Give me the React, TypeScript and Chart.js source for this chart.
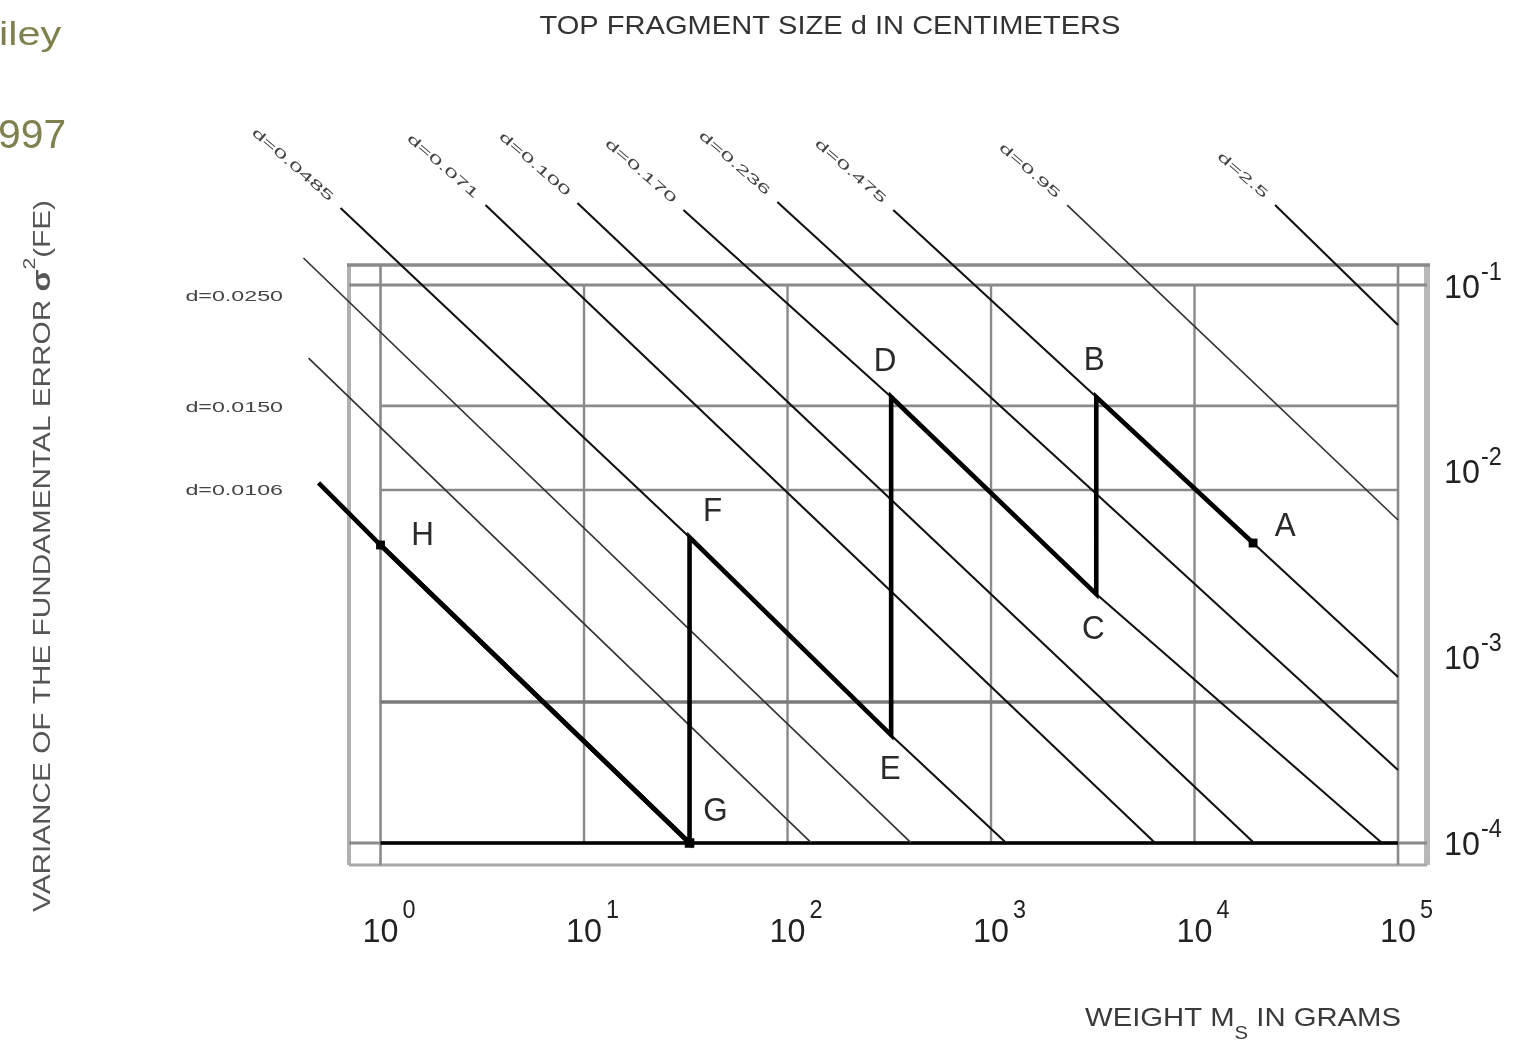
import React, { useEffect, useRef } from "react";
import { Chart, registerables } from "chart.js";

Chart.register(...registerables);

// ---------- axis ranges (outer frame of the nomogram) ----------
const X_MIN = 0.704;
const X_MAX = 138800;
const Y_MIN = 7.614e-5;
const Y_MAX = 0.1281;

// ---------- ticks & grid ----------
const xDecades = [1, 10, 100, 1000, 10000, 100000];
const xExponents = ["0", "1", "2", "3", "4", "5"];
const yDecades = [0.1, 0.01, 0.001, 0.0001];
const yExponents = ["-1", "-2", "-3", "-4"];
const yExtraGrid = [0.0224, 0.0079, 0.000573];

// ---------- top fragment size lines: weight Ms (g) -> variance ----------
const line0106 = [{ x: 0.496, y: 0.00862 }, { x: 1, y: 0.004 }, { x: 33, y: 0.0001 }];
const line0150 = [{ x: 0.443, y: 0.0405 }, { x: 131, y: 0.0001 }];
const line0250 = [{ x: 0.418, y: 0.1397 }, { x: 405, y: 0.0001 }];
const line0485 = [{ x: 0.636, y: 0.2594 }, { x: 33, y: 0.0044 }, { x: 323, y: 0.00038 }, { x: 1188, y: 0.0001 }];
const line071 = [{ x: 3.28, y: 0.2692 }, { x: 6406, y: 0.0001 }];
const line100 = [{ x: 9.28, y: 0.276 }, { x: 19620, y: 0.0001 }];
const line170 = [{ x: 30.8, y: 0.253 }, { x: 323, y: 0.025 }, { x: 3290, y: 0.00218 }, { x: 83440, y: 0.0001 }];
const line236 = [{ x: 89.1, y: 0.2794 }, { x: 100000, y: 0.000247 }];
const line475 = [{ x: 330.8, y: 0.253 }, { x: 3290, y: 0.025 }, { x: 19400, y: 0.0041 }, { x: 100000, y: 0.000781 }];
const line95 = [{ x: 2367, y: 0.2692 }, { x: 100000, y: 0.005452 }];
const line25 = [{ x: 24880, y: 0.2692 }, { x: 100000, y: 0.06095 }];

const diagonalLines = [line0485, line071, line100, line170, line236, line475, line95, line25];
const diagonalLabels = ["d=0.0485", "d=0.071", "d=0.100", "d=0.170", "d=0.236", "d=0.475", "d=0.95", "d=2.5"];
const leftLabels = ["d=0.0250", "d=0.0150", "d=0.0106"];
const leftLabelY = [0.0862, 0.0218, 0.0078];

// ---------- sampling protocol path A -> H ----------
const pathLetters = ["A", "B", "C", "D", "E", "F", "G", "H"];
const pathPoints = [
  { x: 19400, y: 0.0041 },
  { x: 3290, y: 0.025 },
  { x: 3290, y: 0.00218 },
  { x: 323, y: 0.025 },
  { x: 323, y: 0.00038 },
  { x: 33, y: 0.0044 },
  { x: 33, y: 0.0001 },
  { x: 1, y: 0.004 },
];

// ---------- texts ----------
const cornerTexts = ["iley", "997"];
const titleText = "TOP FRAGMENT SIZE d IN CENTIMETERS";
const yTitleParts = ["VARIANCE OF THE FUNDAMENTAL ERROR ", "σ", "2", "(FE)"];
const xTitleParts = ["WEIGHT M", "S", " IN GRAMS"];

// ---------- styles (not data) ----------
const SANS = '"Liberation Sans", Arial, Helvetica, sans-serif';
const letterOffsets = [[32, -16], [-2, -36], [-3, 36], [-6, -35], [-1, 35], [23, -25], [26, -31], [42, -9]];
const GRID = "#8a8a8a";

function seg(ctx: CanvasRenderingContext2D, x1: number, y1: number, x2: number, y2: number, color: string, w: number) {
  ctx.save();
  ctx.strokeStyle = color;
  ctx.lineWidth = w;
  ctx.lineCap = "butt";
  ctx.beginPath();
  ctx.moveTo(x1, y1);
  ctx.lineTo(x2, y2);
  ctx.stroke();
  ctx.restore();
}

function put(
  ctx: CanvasRenderingContext2D,
  text: string,
  x: number,
  y: number,
  size: number,
  o: { align?: CanvasTextAlign; baseline?: CanvasTextBaseline; color?: string; sx?: number; width?: number; angle?: number; weight?: string } = {}
) {
  ctx.save();
  ctx.font = `${o.weight || "normal"} ${size}px ${SANS}`;
  ctx.fillStyle = o.color || "#333";
  ctx.textAlign = o.align || "left";
  ctx.textBaseline = o.baseline || "alphabetic";
  ctx.translate(x, y);
  if (o.angle) ctx.rotate(o.angle);
  let s = o.sx || 1;
  if (o.width) s = o.width / ctx.measureText(text).width;
  ctx.scale(s, 1);
  ctx.fillText(text, 0, 0);
  ctx.restore();
}

type Part = { t: string; size: number; dy: number; weight?: string };
function putParts(ctx: CanvasRenderingContext2D, parts: Part[], x: number, y: number, total: number, color: string, angle = 0) {
  ctx.save();
  ctx.translate(x, y);
  if (angle) ctx.rotate(angle);
  let natural = 0;
  const widths = parts.map((p) => {
    ctx.font = `${p.weight || "normal"} ${p.size}px ${SANS}`;
    const w = ctx.measureText(p.t).width;
    natural += w;
    return w;
  });
  ctx.scale(total / natural, 1);
  ctx.fillStyle = color;
  ctx.textBaseline = "alphabetic";
  ctx.textAlign = "left";
  let cx = 0;
  parts.forEach((p, i) => {
    ctx.font = `${p.weight || "normal"} ${p.size}px ${SANS}`;
    ctx.fillText(p.t, cx, p.dy);
    cx += widths[i];
  });
  ctx.restore();
}

const nomogramPlugin = {
  id: "nomogram",
  beforeDatasetsDraw(chart: any) {
    const ctx: CanvasRenderingContext2D = chart.ctx;
    const a = chart.chartArea;
    const px = (v: number) => chart.scales.x.getPixelForValue(v);
    const py = (v: number) => chart.scales.y.getPixelForValue(v);
    const xl = px(xDecades[0]);
    const xr = px(xDecades[xDecades.length - 1]);
    const yt = py(yDecades[0]);
    const yb = py(yDecades[yDecades.length - 1]);
    // outer frame
    seg(ctx, a.left, a.top, a.left, a.bottom, "#b0b0b0", 4);
    seg(ctx, a.right, a.top, a.right, a.bottom, "#b8b8b8", 6);
    seg(ctx, a.left, a.bottom, a.right, a.bottom, "#a8a8a8", 3);
    seg(ctx, a.left - 2, a.top, a.right + 3, a.top, GRID, 3.5);
    // inner grid
    xDecades.forEach((v, i) => {
      const x = px(v);
      if (i === 0 || i === xDecades.length - 1) seg(ctx, x, a.top, x, a.bottom, GRID, 2.6);
      else seg(ctx, x, yt, x, yb, GRID, 2.4);
    });
    seg(ctx, a.left, yt, a.right, yt, GRID, 2.8);
    seg(ctx, a.left, yb, a.right, yb, GRID, 2.8);
    yExtraGrid.forEach((v, i) => {
      const y = py(v);
      seg(ctx, xl, y, xr, y, i === 2 ? "#7a7a7a" : GRID, i === 2 ? 3.6 : 2.6);
    });
    seg(ctx, xl, yb, xr, yb, "#000", 3.6);
  },
  afterDraw(chart: any) {
    const ctx: CanvasRenderingContext2D = chart.ctx;
    const a = chart.chartArea;
    const px = (v: number) => chart.scales.x.getPixelForValue(v);
    const py = (v: number) => chart.scales.y.getPixelForValue(v);

    // corner fragments
    put(ctx, cornerTexts[0], -1, 45, 34, { color: "#80804e", sx: 1.22 });
    put(ctx, cornerTexts[1], -2, 148, 40, { color: "#80804e", sx: 1.02 });

    // title
    put(ctx, titleText, 830, 34, 26, { align: "center", color: "#333", width: 581 });

    // x tick labels
    xDecades.forEach((v, i) => {
      const x = px(v);
      put(ctx, "10", x, a.bottom + 77, 34, { align: "center", color: "#222", sx: 0.95 });
      put(ctx, xExponents[i], x + 22, a.bottom + 53, 26, { color: "#222", sx: 0.9 });
    });
    // y tick labels (right side)
    yDecades.forEach((v, i) => {
      const y = py(v);
      put(ctx, "10", a.right + 17, y + 12.5, 34, { color: "#222", sx: 0.95 });
      put(ctx, yExponents[i], a.right + 54, y - 5.5, 26, { color: "#222", sx: 0.9 });
    });

    // diagonal size labels, placed just before each line start
    diagonalLines.forEach((ln, i) => {
      const x = px(ln[0].x);
      const y = py(ln[0].y);
      put(ctx, diagonalLabels[i], x - 9, y - 9, 13, { align: "right", baseline: "middle", color: "#444", sx: 1.9, angle: (41 * Math.PI) / 180 });
    });
    // left labels
    leftLabels.forEach((t, i) => {
      put(ctx, t, a.left - 66, py(leftLabelY[i]), 15, { align: "right", baseline: "middle", color: "#444", sx: 1.55 });
    });

    // path letters
    pathPoints.forEach((p, i) => {
      put(ctx, pathLetters[i], px(p.x) + letterOffsets[i][0], py(p.y) + letterOffsets[i][1], 33, {
        align: "center",
        baseline: "middle",
        color: "#2a2a2a",
        sx: 0.95,
      });
    });

    // y axis title (rotated)
    putParts(
      ctx,
      [
        { t: yTitleParts[0], size: 24, dy: 0 },
        { t: yTitleParts[1], size: 26, dy: 0, weight: "bold" },
        { t: yTitleParts[2], size: 17, dy: -15 },
        { t: yTitleParts[3], size: 24, dy: 0 },
      ],
      50,
      912,
      712,
      "#555",
      -Math.PI / 2
    );
    // x axis title
    putParts(
      ctx,
      [
        { t: xTitleParts[0], size: 26, dy: 0 },
        { t: xTitleParts[1], size: 18, dy: 13 },
        { t: xTitleParts[2], size: 26, dy: 0 },
      ],
      1085,
      1026,
      316,
      "#3a3a3a"
    );
  },
};

export default function App() {
  const ref = useRef<HTMLCanvasElement | null>(null);

  useEffect(() => {
    if (!ref.current) return;
    const thin = (data: any[], color = "#111", w = 2.1) => ({
      data,
      showLine: true,
      borderColor: color,
      backgroundColor: color,
      borderWidth: w,
      pointRadius: 0,
      tension: 0,
      clip: false as any,
      order: 2,
    });
    const datasets: any[] = [
      {
        data: pathPoints,
        showLine: true,
        borderColor: "#000",
        backgroundColor: "#000",
        borderWidth: 4.6,
        borderJoinStyle: "miter",
        pointRadius: [3, 0, 0, 0, 0, 0, 3.5, 3],
        pointStyle: "rect",
        tension: 0,
        clip: false,
        order: 0,
      },
      { ...thin(line0106, "#000", 4.6), order: 1 },
      thin(line0150, "#333", 1.7),
      thin(line0250, "#333", 1.7),
      ...diagonalLines.map((ln, i) => thin(ln, i === 6 ? "#333" : "#111", i === 6 ? 1.7 : 2.1)),
    ];
    const chart = new Chart(ref.current, {
      type: "scatter",
      data: { datasets },
      options: {
        responsive: false,
        maintainAspectRatio: false,
        animation: false,
        devicePixelRatio: 1,
        layout: { padding: { left: 349, top: 265, right: 98, bottom: 179 } },
        plugins: { legend: { display: false }, tooltip: { enabled: false }, title: { display: false } },
        events: [],
        scales: {
          x: { type: "logarithmic", min: X_MIN, max: X_MAX, display: false },
          y: { type: "logarithmic", min: Y_MIN, max: Y_MAX, display: false },
        },
      },
      plugins: [nomogramPlugin],
    });
    return () => chart.destroy();
  }, []);

  return (
    <canvas
      ref={ref}
      width={1525}
      height={1044}
      style={{ position: "fixed", left: 0, top: 0, width: 1525, height: 1044, background: "#fff" }}
    />
  );
}
